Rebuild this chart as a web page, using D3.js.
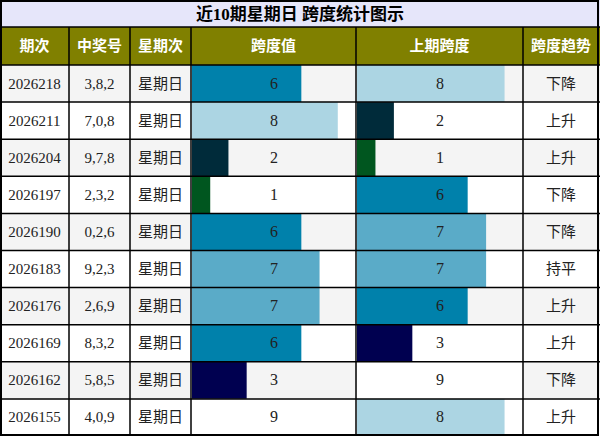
<!DOCTYPE html>
<html>
<head>
<meta charset="utf-8">
<script src="https://cdn.jsdelivr.net/npm/d3@7"></script>
<style>
  body { margin: 0; background: #fff; }
  text { font-family: "Liberation Serif", "Noto Sans CJK SC", serif; }
</style>
</head>
<body>
<div class="vis-table"></div>
<script>
// data
var title = "近10期星期日 跨度统计图示";
var headers = ["期次", "中奖号", "星期次", "跨度值", "上期跨度", "跨度趋势"];
var periods = ["2026218","2026211","2026204","2026197","2026190","2026183","2026176","2026169","2026162","2026155"];
var numbers = ["3,8,2","7,0,8","9,7,8","2,3,2","0,2,6","9,2,3","2,6,9","8,3,2","5,8,5","4,0,9"];
var weekdays = ["星期日","星期日","星期日","星期日","星期日","星期日","星期日","星期日","星期日","星期日"];
var spans = [6,8,2,1,6,7,7,6,3,9];
var prevSpans = [8,2,1,6,7,7,6,3,9,8];
var trends = ["下降","上升","上升","下降","下降","持平","上升","上升","下降","上升"];

// colour per span value
var spanColor = d3.scaleOrdinal()
  .domain([1,2,3,6,7,8,9])
  .range(["#00561f","#002b3a","#000050","#0081ab","#5aabc8","#acd5e3","#ffffff"]);

var width = 600, height = 436;
var titleH = 27, headH = 38;
var colEdges = [0, 69, 130, 191, 356, 523, 599];

var svg = d3.select(".vis-table")
  .append("svg")
    .attr("width", width)
    .attr("height", height);

var y = d3.scaleBand()
  .domain(periods)
  .range([titleH + headH, height])
  .padding(0);

var barX = d3.scaleLinear().domain([0, 9]);

// title
svg.append("rect")
  .attr("x", 0).attr("y", 0).attr("width", width).attr("height", titleH)
  .attr("fill", "#e6e6fa");
svg.append("text")
  .attr("x", width / 2).attr("y", titleH / 2 + 6)
  .attr("text-anchor", "middle")
  .attr("font-size", 17).attr("font-weight", "bold")
  .text(title);

// header
svg.append("rect")
  .attr("x", 0).attr("y", titleH).attr("width", width).attr("height", headH)
  .attr("fill", "#808000");
svg.selectAll(".head")
  .data(headers)
  .enter()
  .append("text")
    .attr("class", "head")
    .attr("x", function(d, i) { return (colEdges[i] + colEdges[i + 1]) / 2; })
    .attr("y", titleH + headH / 2 + 5)
    .attr("text-anchor", "middle")
    .attr("font-size", 15).attr("font-weight", "bold")
    .attr("fill", "#fff")
    .text(function(d) { return d; });

// rows
var rows = periods.map(function(p, i) {
  return {period: p, num: numbers[i], day: weekdays[i], span: spans[i], prev: prevSpans[i], trend: trends[i], i: i};
});

var row = svg.selectAll(".row")
  .data(rows)
  .enter()
  .append("g")
    .attr("class", "row")
    .attr("transform", function(d) { return "translate(0," + y(d.period) + ")"; });

row.append("rect")
  .attr("x", 0).attr("width", width).attr("height", y.bandwidth())
  .attr("fill", function(d) { return d.i % 2 === 0 ? "#f4f4f4" : "#ffffff"; });

// bars in the two span columns
[[3, "span"], [4, "prev"]].forEach(function(c) {
  var x0 = colEdges[c[0]] + 1, x1 = colEdges[c[0] + 1];
  barX.range([0, x1 - x0]);
  row.append("rect")
    .attr("x", x0)
    .attr("width", function(d) { return barX(d[c[1]]); })
    .attr("height", y.bandwidth())
    .attr("fill", function(d) { return spanColor(d[c[1]]); });
  row.append("text")
    .attr("x", (x0 + x1) / 2)
    .attr("y", y.bandwidth() / 2 + 5)
    .attr("text-anchor", "middle")
    .attr("font-size", 16)
    .attr("fill", "#222")
    .text(function(d) { return d[c[1]]; });
});

var textCols = [[0, "period", 15], [1, "num", 15], [2, "day", 15], [5, "trend", 15]];
textCols.forEach(function(c) {
  row.append("text")
    .attr("x", (colEdges[c[0]] + colEdges[c[0] + 1]) / 2)
    .attr("y", y.bandwidth() / 2 + 5)
    .attr("text-anchor", "middle")
    .attr("font-size", c[2])
    .attr("fill", "#222")
    .text(function(d) { return d[c[1]]; });
});

// grid lines
var grid = svg.append("g").attr("stroke", "#000").attr("stroke-width", 1.5);
grid.selectAll(".hl")
  .data([titleH, titleH + headH].concat(periods.slice(1).map(function(p) { return y(p); })))
  .enter()
  .append("line")
    .attr("x1", 0).attr("x2", width)
    .attr("y1", function(d) { return d; }).attr("y2", function(d) { return d; });
grid.selectAll(".vl")
  .data(colEdges.slice(1, -1))
  .enter()
  .append("line")
    .attr("x1", function(d) { return d; }).attr("x2", function(d) { return d; })
    .attr("y1", titleH).attr("y2", height);
svg.append("rect")
  .attr("x", 1).attr("y", 1).attr("width", width - 3).attr("height", height - 2)
  .attr("fill", "none").attr("stroke", "#000").attr("stroke-width", 2);
</script>
</body>
</html>
